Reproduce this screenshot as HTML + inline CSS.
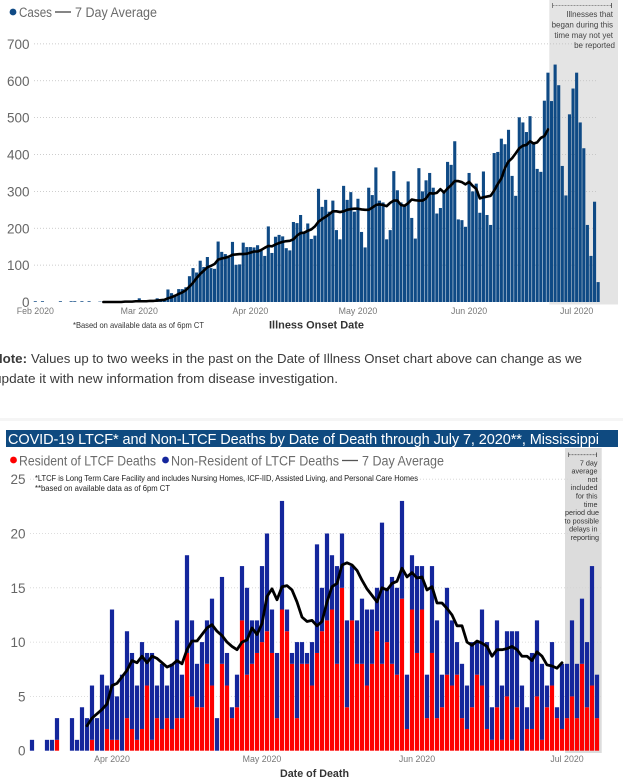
<!DOCTYPE html>
<html lang="en">
<head>
<meta charset="utf-8">
<title>Mississippi COVID-19 charts</title>
<style>
html,body{margin:0;padding:0;background:#fff;width:623px;height:782px;overflow:hidden}
svg{display:block}
text{font-family:"Liberation Sans",sans-serif}
</style>
</head>
<body>
<svg id="root" width="623" height="782" viewBox="0 0 623 782">
  <rect x="549.3" y="0" width="68.7" height="304.5" fill="#e4e4e4"/>
  <g id="caseGrid"></g>
  <g id="caseBars"></g>
  <path id="caseLine" fill="none" stroke="#000" stroke-width="2.6" stroke-linejoin="round" stroke-linecap="round"/>
  <g id="caseYLabels"></g>
  <g id="caseXLabels"></g>

  <g>
    <circle cx="13" cy="12" r="3.4" fill="#0f4a85"/>
    <text x="19" y="17" font-size="13.5" fill="#6b6b6b" textLength="33" lengthAdjust="spacingAndGlyphs">Cases</text>
    <line x1="55" x2="71" y1="12" y2="12" stroke="#444" stroke-width="1.3"/>
    <text x="75" y="17" font-size="13.5" fill="#6b6b6b" textLength="82" lengthAdjust="spacingAndGlyphs">7 Day Average</text>
  </g>

  <g>
    <line x1="552.5" x2="611.5" y1="5.5" y2="5.5" stroke="#777" stroke-width="0.8" stroke-dasharray="2 1"/>
    <line x1="552.5" x2="552.5" y1="3" y2="8" stroke="#666" stroke-width="0.8"/>
    <line x1="611.5" x2="611.5" y1="3" y2="8" stroke="#444" stroke-width="0.8"/>
    <g font-size="8" fill="#444" text-anchor="end">
      <text x="613" y="17">Illnesses that</text>
      <text x="613" y="27.5">began during this</text>
      <text x="613" y="38">time may not yet</text>
      <text x="615" y="48">be reported</text>
    </g>
  </g>

  <text x="73" y="328" font-size="8.4" fill="#333" textLength="131" lengthAdjust="spacingAndGlyphs">*Based on available data as of 6pm CT</text>
  <text x="269" y="328.5" font-size="11" fill="#333" font-weight="bold" textLength="95" lengthAdjust="spacingAndGlyphs">Illness Onset Date</text>

  <g fill="#3a3a3a" font-size="13">
    <text x="-7" y="363" font-weight="bold" textLength="34" lengthAdjust="spacingAndGlyphs">Note:</text>
    <text x="31" y="363" textLength="551" lengthAdjust="spacingAndGlyphs">Values up to two weeks in the past on the Date of Illness Onset chart above can change as we</text>
    <text x="-6" y="383" textLength="344" lengthAdjust="spacingAndGlyphs">update it with new information from disease investigation.</text>
  </g>

  <rect x="0" y="418" width="623" height="3" fill="#f5f5f5"/>

  <rect x="6" y="430" width="612" height="17" fill="#0f4a80"/>
  <text x="8" y="444" font-size="14.5" fill="#fff" textLength="591" lengthAdjust="spacing">COVID-19 LTCF* and Non-LTCF Deaths by Date of Death through July 7, 2020**, Mississippi</text>

  <rect x="565" y="448" width="36.7" height="305" fill="#dcdcdc"/>
  <g id="deathGrid"></g>
  <g id="deathBars"></g>
  <path id="deathLine" fill="none" stroke="#000" stroke-width="2.8" stroke-linejoin="round" stroke-linecap="round"/>
  <g id="deathYLabels"></g>
  <g id="deathXLabels"></g>

  <g>
    <circle cx="13.5" cy="460" r="3.4" fill="#fe0000"/>
    <text x="19" y="465.5" font-size="13.5" fill="#6b6b6b" textLength="137" lengthAdjust="spacingAndGlyphs">Resident of LTCF Deaths</text>
    <circle cx="165.5" cy="460" r="3.4" fill="#14269c"/>
    <text x="171" y="465.5" font-size="13.5" fill="#6b6b6b" textLength="168" lengthAdjust="spacingAndGlyphs">Non-Resident of LTCF Deaths</text>
    <line x1="342" x2="358" y1="460.5" y2="460.5" stroke="#555" stroke-width="1.3"/>
    <text x="362" y="465.5" font-size="13.5" fill="#6b6b6b" textLength="82" lengthAdjust="spacingAndGlyphs">7 Day Average</text>
  </g>

  <g font-size="8" fill="#222">
    <text x="35" y="481" textLength="383" lengthAdjust="spacingAndGlyphs">*LTCF is Long Term Care Facility and includes Nursing Homes, ICF-IID, Assisted Living, and Personal Care Homes</text>
    <text x="35" y="491" textLength="135" lengthAdjust="spacingAndGlyphs">**based on available data as of 6pm CT</text>
  </g>

  <g>
    <line x1="568.5" x2="596.5" y1="454.7" y2="454.7" stroke="#666" stroke-width="0.8" stroke-dasharray="2 1"/>
    <line x1="568.5" x2="568.5" y1="452.5" y2="457" stroke="#555" stroke-width="0.8"/>
    <line x1="596.5" x2="596.5" y1="452.5" y2="457" stroke="#444" stroke-width="0.8"/>
    <g font-size="7.2" fill="#333" text-anchor="end">
      <text x="597.5" y="465.3">7 day</text>
      <text x="597.5" y="473.6">average</text>
      <text x="597.5" y="481.9">not</text>
      <text x="597.5" y="490.2">included</text>
      <text x="597.5" y="498.5">for this</text>
      <text x="597.5" y="506.8">time</text>
      <text x="599" y="515.1">period due</text>
      <text x="599" y="523.4">to possible</text>
      <text x="597.5" y="531.7">delays in</text>
      <text x="599" y="540">reporting</text>
    </g>
  </g>

  <text x="280" y="777" font-size="11" fill="#333" font-weight="bold" textLength="69" lengthAdjust="spacingAndGlyphs">Date of Death</text>
</svg>

<script>
// ---- Cases chart data (index 0 = Feb 1 2020) ----
const caseValues = [
  2,0,2,0,0,0,0,2,0,0,2,2,0,2,0,2,0,0,1,1,1,1,1,1,1,1,2,2,3,
  10,3,3,4,5,10,6,7,
  34,24,20,35,35,40,70,92,80,112,95,122,92,90,164,136,130,120,163,101,102,161,149,149,148,154,139,125,205,133,177,182,178,146,140,217,214,236,190,213,171,180,
  307,258,277,245,275,195,170,315,277,298,245,280,190,148,310,290,365,275,270,170,195,355,303,270,260,327,228,172,363,300,330,350,310,240,255,300,380,372,436,224,222,204,
  350,300,321,242,354,236,209,404,407,443,428,467,342,288,501,487,461,504,430,361,353,546,622,545,644,588,369,289,509,579,622,487,417,209,125,272,54
];
// 7-day average, first value is day index 19 (Feb 20)
const caseAvgStart = 19;
const caseAverage = [
  0,0,0,0,0,0,1,1,1,2,2,2,2,3,3,4,5,6,
  10,13,17,22,26,32,42,52,65,76,85,94,98,103,115,118,120,123,128,129,130,130,131,134,137,137,141,147,152,151,156,160,163,165,166,170,180,187,188,193,197,205,
  218,225,231,238,246,246,244,246,250,252,253,253,251,250,250,256,263,265,263,260,269,275,275,263,261,268,278,276,275,275,281,295,294,296,306,297,308,317,328,328,325,319,326,315,307,281,284,286,288,302,320,335,363,381,390,403,417,424,426,436,430,433,445,450,468
];
const caseYTicks = [0,100,200,300,400,500,600,700];
const caseMonthLabels = ["Feb 2020","Mar 2020","Apr 2020","May 2020","Jun 2020","Jul 2020"];
const caseMonthDays = [0,29,60,90,121,151];

// ---- Deaths chart data (index 0 = Mar 16 2020) ----
const residentDeaths = [
  0,0,0,0,0,1,0,0,0,0,
  0,0,1,0,0,2,1,1,0,3,
  2,1,2,6,1,3,2,3,2,3,
  3,9,5,4,4,8,6,0,8,6,
  3,4,12,7,8,9,10,11,9,3,
  13,11,8,3,8,8,6,9,11,12,
  13,8,15,4,12,8,8,6,8,11,
  8,10,8,7,14,2,13,9,13,3,
  9,3,4,7,6,7,3,2,4,7,
  6,2,1,4,1,5,1,4,0,2,
  2,5,1,4,6,3,2,3,5,3,
  8,4,6,3
];
const nonResidentDeaths = [
  1,0,0,1,1,2,0,0,3,1,
  4,3,5,3,7,4,12,4,7,8,
  7,5,8,3,8,3,6,3,6,9,
  4,9,7,4,6,4,8,3,8,3,
  1,3,5,8,4,3,7,9,4,6,
  10,2,1,7,2,1,4,10,4,8,
  5,9,5,8,5,4,6,7,5,4,
  13,5,8,8,9,5,5,8,4,4,
  8,9,3,8,6,3,5,4,6,3,
  7,8,3,8,5,6,10,7,6,2,
  7,7,7,2,4,1,6,5,7,5,
  6,6,11,4
];
// 7-day average, first value is index 11 (Mar 27)
const deathAvgStart = 11;
const deathAverage = [
  2.3,3.0,3.4,3.8,4.3,6.0,6.2,6.8,7.4,8.3,8.1,8.7,8.1,8.7,8.5,8.1,7.7,7.9,8.3,8.0,9.3,10.1,10.1,10.7,11.3,11.6,11.0,10.6,10.0,9.6,9.3,10.0,10.2,11.3,10.7,11.7,14.2,14.9,13.9,15.1,15.2,14.8,13.7,12.3,11.9,12.0,11.5,
  11.9,13.7,15.1,15.4,17.1,17.3,17.1,16.6,15.7,14.9,14.3,13.7,15.0,14.8,15.4,15.6,16.8,16.0,16.4,15.9,16.0,14.8,15.1,13.6,13.6,13.1,12.5,11.5,11.5,10.0,9.7,10.1,9.9,9.6,8.7,9.3,9.3,9.4,9.6,9.3,8.7,8.7,8.3,9.1,8.7,7.9,7.8,7.6,8.1
];
const deathYTicks = [0,5,10,15,20,25];
const deathMonthLabels = ["Apr 2020","May 2020","Jun 2020","Jul 2020"];
const deathMonthDays = [16,46,77,107];

// ---- Axis functions ----
function caseX(day){ return 35.3 + 3.585 * day; }
function caseY(v){ return 302 - v * 0.3687; }
function deathX(i){ return 32 + 5 * i; }
function deathY(v){ return 750.7 - v * 10.86; }

const NS = "http://www.w3.org/2000/svg";
function svgEl(tag, parent, attrs){
  const el = document.createElementNS(NS, tag);
  for (const k in attrs) el.setAttribute(k, attrs[k]);
  parent.appendChild(el);
  return el;
}
function linePath(values, start, xf, yf){
  return values.map(function(v, i){
    return (i ? "L" : "M") + xf(start + i).toFixed(2) + " " + yf(v).toFixed(2);
  }).join(" ");
}

// ---- Cases chart ----
const caseGrid = document.getElementById("caseGrid");
const caseBars = document.getElementById("caseBars");
const caseYLabels = document.getElementById("caseYLabels");
const caseXLabels = document.getElementById("caseXLabels");

caseYTicks.forEach(function(t){
  if (t > 0) {
    const g = svgEl("line", caseGrid, {x1:34, x2:597, y1:caseY(t), y2:caseY(t), stroke:"#bdbdbd", "stroke-width":0.8, "stroke-dasharray":"1 2"});
    
    
  }
  const l = svgEl("text", caseYLabels, {x:29.5, y:caseY(t) + 5, "font-size":13.5, fill:"#666", "text-anchor":"end"});
  l.textContent = t;
  
  
});
caseMonthLabels.forEach(function(label, i){
  const l = svgEl("text", caseXLabels, {x:caseX(caseMonthDays[i]), y:314, "font-size":8.8, fill:"#777", "text-anchor":"middle"});
  l.textContent = label;
  
  
});
caseValues.forEach(function(v, d){
  if (v <= 0) return;
  const b = svgEl("rect", caseBars, {x:caseX(d) - 1.55, y:caseY(v), width:3.1, height:caseY(0) - caseY(v), fill:"#0f4a85"});
  
  
});
document.getElementById("caseLine").setAttribute("d", linePath(caseAverage, caseAvgStart, caseX, caseY));

// ---- Deaths chart ----
const deathGrid = document.getElementById("deathGrid");
const deathBars = document.getElementById("deathBars");
const deathYLabels = document.getElementById("deathYLabels");
const deathXLabels = document.getElementById("deathXLabels");

deathYTicks.forEach(function(t){
  if (t > 0) {
    const g = svgEl("line", deathGrid, {x1:30, x2:601, y1:deathY(t), y2:deathY(t), stroke:"#d2d2d2", "stroke-width":0.8, "stroke-dasharray":"1 2"});
    
    
  }
  const l = svgEl("text", deathYLabels, {x:25.5, y:deathY(t) + 5, "font-size":13.5, fill:"#666", "text-anchor":"end"});
  l.textContent = t;
  
  
});
deathMonthLabels.forEach(function(label, i){
  const l = svgEl("text", deathXLabels, {x:deathX(deathMonthDays[i]), y:762, "font-size":8.8, fill:"#777", "text-anchor":"middle"});
  l.textContent = label;
  
  
});
residentDeaths.forEach(function(r, i){
  const n = nonResidentDeaths[i] || 0;
  if (r > 0) {
    const red = svgEl("rect", deathBars, {x:deathX(i) - 2.1, y:deathY(r), width:4.2, height:deathY(0) - deathY(r), fill:"#fe0000"});
    
    
  }
  if (n > 0) {
    const blue = svgEl("rect", deathBars, {x:deathX(i) - 2.1, y:deathY(r + n), width:4.2, height:deathY(r) - deathY(r + n), fill:"#14269c"});
    
    
  }
});
document.getElementById("deathLine").setAttribute("d", linePath(deathAverage, deathAvgStart, deathX, deathY));
</script>
</body>
</html>
